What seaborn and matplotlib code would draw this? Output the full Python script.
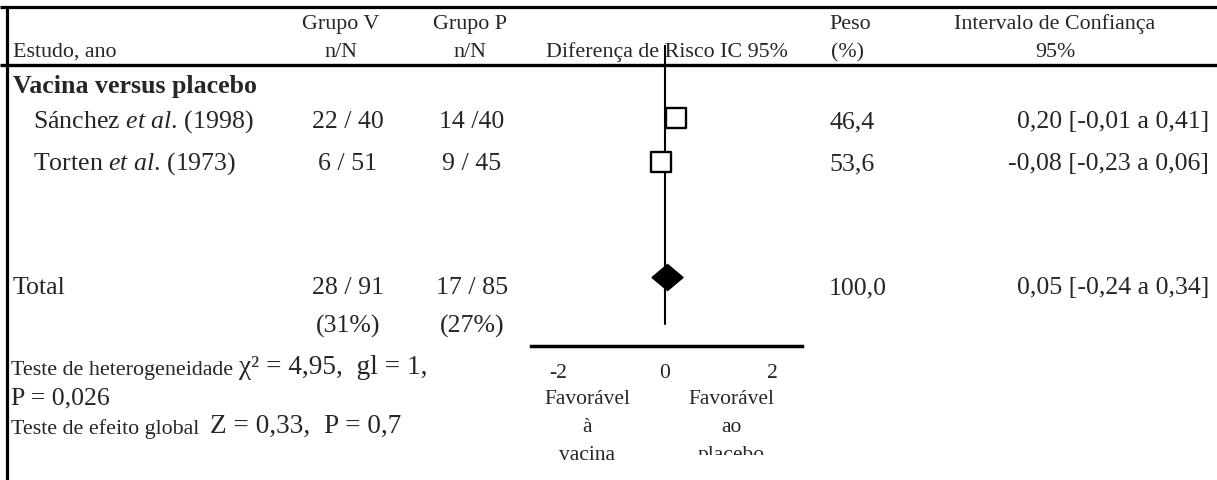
import numpy as np
import pandas as pd
import matplotlib
matplotlib.use("Agg")
import matplotlib.pyplot as plt
from matplotlib.transforms import Bbox
import seaborn as sns

# ---------------- data ----------------
study_names = ["Sánchez", "Torten"]
study_years = ["(1998)", "(1973)"]
grupo_v = ["22 / 40", "6 / 51"]
grupo_p = ["14 /40", "9 / 45"]
risk_diff = [0.20, -0.08]
ci_low = [-0.01, -0.23]
ci_high = [0.41, 0.06]
weights = ["46,4", "53,6"]
ci_labels = ["0,20 [-0,01 a 0,41]", "-0,08 [-0,23 a 0,06]"]

total_v = "28 / 91"
total_p = "17 / 85"
pct_v = "(31%)"
pct_p = "(27%)"
total_rd = 0.05
total_low = -0.24
total_high = 0.34
total_weight = "100,0"
total_ci_label = "0,05 [-0,24 a 0,34]"

x_ticks = [-2, 0, 2]
x_ticklabels = ["-2", "0", "2"]

# ---------------- style ----------------
sns.set_theme(style="white")
plt.rcParams["font.family"] = ["Liberation Serif", "DejaVu Serif"]
plt.rcParams["mathtext.fontset"] = "custom"
plt.rcParams["mathtext.rm"] = "Liberation Serif"
plt.rcParams["mathtext.it"] = "Liberation Serif:italic"

W, H = 1217, 481
fig = plt.figure(figsize=(W / 100, H / 100), dpi=100)
fig.patch.set_facecolor("white")

# background axes in pixel coordinates (layout only)
bg = fig.add_axes([0, 0, 1, 1])
bg.set_xlim(0, W)
bg.set_ylim(H, 0)
bg.axis("off")

HS = 15.8   # header font size
BS = 18.6   # body font size
FS = 15.5   # axis captions
TS = 15.5   # tick labels

# frame lines
bg.plot([0, W], [8, 8], color="black", lw=2.3, solid_capstyle="butt")
bg.plot([0, W], [65.5, 65.5], color="black", lw=2.4, solid_capstyle="butt")
bg.plot([6.5, 6.5], [8, H], color="black", lw=2.3, solid_capstyle="butt")

# header
row1, row2 = 29, 57
col_v, col_p = 341, 470
col_peso = 829
col_ic = 1055
bg.text(col_v, row1, "Grupo V", ha="center", va="baseline", fontsize=HS)
bg.text(col_p, row1, "Grupo P", ha="center", va="baseline", fontsize=HS)
bg.text(col_peso, row1, "Peso", ha="left", va="baseline", fontsize=HS)
bg.text(col_ic, row1, "Intervalo de Confiança", ha="center", va="baseline", fontsize=HS)
bg.text(13, row2, "Estudo, ano", ha="left", va="baseline", fontsize=HS)
bg.text(col_v, row2, "n/N", ha="center", va="baseline", fontsize=HS)
bg.text(col_p, row2, "n/N", ha="center", va="baseline", fontsize=HS)
bg.text(546, row2, "Diferença de Risco IC 95%", ha="left", va="baseline", fontsize=HS)
bg.text(col_peso + 2, row2, "(%)", ha="left", va="baseline", fontsize=HS)
bg.text(col_ic, row2, "95%", ha="center", va="baseline", fontsize=HS)

# body rows
bg.text(13, 93, "Vacina versus placebo", ha="left", va="baseline",
        fontsize=BS, fontweight="bold")
study_base = [128, 170]
for i in range(len(study_names)):
    yb = study_base[i]
    bg.text(33, yb, study_names[i] + r" $\it{et\ al}$. " + study_years[i],
            ha="left", va="baseline", fontsize=BS)
    bg.text(col_v + 7, yb, grupo_v[i], ha="center", va="baseline", fontsize=BS)
    bg.text(col_p + 2, yb, grupo_p[i], ha="center", va="baseline", fontsize=BS)
    bg.text(col_peso, yb, weights[i], ha="left", va="baseline", fontsize=BS)
    bg.text(1209, yb, ci_labels[i], ha="right", va="baseline", fontsize=BS)

tb = 294
bg.text(13, tb, "Total", ha="left", va="baseline", fontsize=BS)
bg.text(col_v + 7, tb, total_v, ha="center", va="baseline", fontsize=BS)
bg.text(col_p + 2, tb, total_p, ha="center", va="baseline", fontsize=BS)
bg.text(col_peso, tb, total_weight, ha="left", va="baseline", fontsize=BS)
bg.text(1209, tb, total_ci_label, ha="right", va="baseline", fontsize=BS)
bg.text(col_v + 7, 333, pct_v, ha="center", va="baseline", fontsize=BS)
bg.text(col_p + 2, 333, pct_p, ha="center", va="baseline", fontsize=BS)

# footnotes
t1 = bg.text(11, 375, "Teste de heterogeneidade ", ha="left", va="baseline", fontsize=HS)
bg.annotate("χ² = 4,95,  gl = 1,", xy=(1, 0), xycoords=t1,
            va="bottom", ha="left", fontsize=BS + 1)
bg.text(11, 404, "P = 0,026", ha="left", va="baseline", fontsize=BS)
t2 = bg.text(11, 434, "Teste de efeito global  ", ha="left", va="baseline", fontsize=HS)
bg.annotate("Z = 0,33,  P = 0,7", xy=(1, 0), xycoords=t2,
            va="bottom", ha="left", fontsize=BS + 1)

# axis captions
bg.text(587, 404, "Favorável", ha="center", va="baseline", fontsize=FS)
bg.text(587, 432, "à", ha="center", va="baseline", fontsize=FS)
bg.text(587, 460, "vacina", ha="center", va="baseline", fontsize=FS)
bg.text(731, 404, "Favorável", ha="center", va="baseline", fontsize=FS)
bg.text(731, 432, "ao", ha="center", va="baseline", fontsize=FS)
tpl = bg.text(731, 460, "placebo", ha="center", va="baseline", fontsize=FS)
tpl.set_clip_box(Bbox.from_extents(0, H - 456, W, H))
tpl.set_clip_on(True)

# ---------------- forest axes ----------------
ax_l, ax_r = 531, 802
ax_top, ax_bot = 46, 347
fax = fig.add_axes([ax_l / W, 1 - ax_bot / H, (ax_r - ax_l) / W, (ax_bot - ax_top) / H])
fax.set_facecolor("none")
fax.set_xlim(-2.5, 2.56)
fax.set_ylim(ax_bot, ax_top)   # rows laid out in pixel units

row_centers = [119, 163]
diamond_center = 278.5
diamond_half = 13

df = pd.DataFrame({"rd": risk_diff, "lo": ci_low, "hi": ci_high, "row": row_centers})

# line of no effect
fax.plot([0, 0], [ax_top, 325], color="black", lw=1.5, zorder=1)
# confidence intervals
fax.hlines(df["row"], df["lo"], df["hi"], color="black", lw=1.5, zorder=2)
# study squares
sns.scatterplot(data=df, x="rd", y="row", marker="s", s=205, color="white",
                edgecolor="black", linewidth=1.7, ax=fax, zorder=3, legend=False)
# pooled diamond
fax.fill([total_low, total_rd, total_high, total_rd],
         [diamond_center, diamond_center - diamond_half, diamond_center, diamond_center + diamond_half],
         color="black", zorder=3)

for s in ["top", "left", "right"]:
    fax.spines[s].set_visible(False)
fax.spines["bottom"].set_linewidth(2.5)
fax.spines["bottom"].set_color("black")
fax.set_yticks([])
fax.set_xticks(x_ticks)
fax.set_xticklabels(x_ticklabels, fontsize=TS)
fax.tick_params(axis="x", length=0, pad=12)
fax.set_xlabel("")
fax.set_ylabel("")

fig.savefig("out.png", dpi=100, facecolor="white")
